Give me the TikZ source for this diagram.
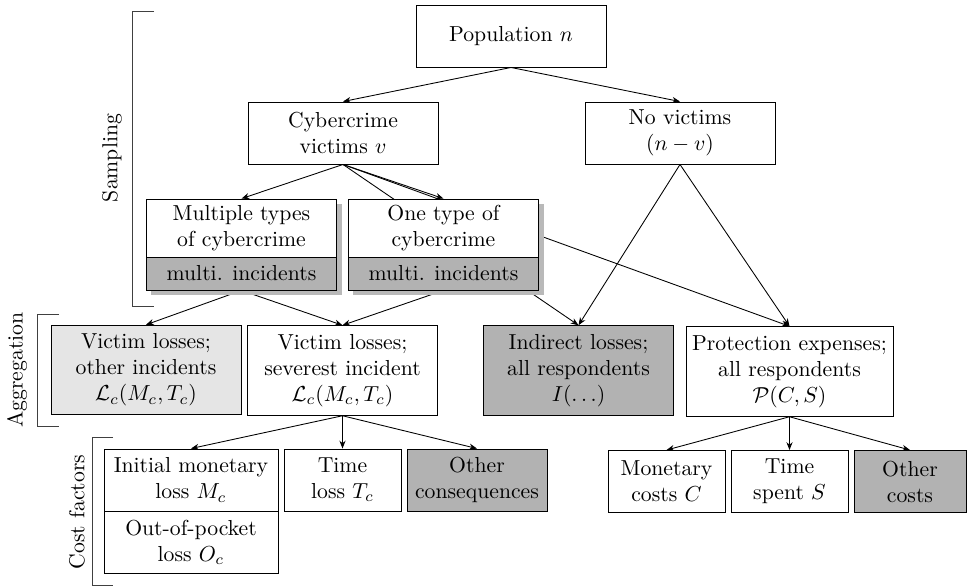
\documentclass[tikz,border=0pt]{standalone}
\usepackage{tikz}
\usetikzlibrary{arrows.meta,shadows}
\usepackage{amsmath,amssymb}
\pgfdeclarelayer{bg}
\pgfsetlayers{bg,main}
\tikzset{
  box/.style={draw, align=center, inner sep=2pt, minimum width=87.6pt, minimum height=28.6pt},
  tallbox/.style={box, minimum height=41.3pt},
  costbox/.style={box, minimum width=53.9pt},
  shade/.style={drop shadow={shadow xshift=2.3pt, shadow yshift=-2.3pt, fill=gray!55, opacity=1}},
  link/.style={-{Stealth[length=3.6pt,width=2.8pt]}},
  brace/.style={black!75},
}

\begin{document}
\begin{tikzpicture}[x=0.4608pt, y=-0.4608pt]
\useasboundingbox (0,0) rectangle (967,586);
% sampling
\node[box] (pop) at (511,36) {Population $n$};
\node[box] (victims) at (343,133) {Cybercrime\\victims $v$};
\node[box] (novictims) at (680,133) {No victims\\$(n - v)$};
\node[box, shade, fill=white, minimum height=26.7pt] (multitype) at (241.5,228) {Multiple types\\of cybercrime};
\node[box, shade, fill=gray!60, minimum height=15.2pt] (multiinc) at (241.5,273.5) {multi. incidents};
\node[box, shade, fill=white, minimum height=26.7pt] (onetype) at (443.5,228) {One type of\\cybercrime};
\node[box, shade, fill=gray!60, minimum height=15.2pt] (oneinc) at (443.5,273.5) {multi. incidents};

% aggregation
\node[tallbox, fill=gray!20] (otherloss) at (146,370) {Victim losses;\\other incidents\\$\mathcal{L}_c(M_c, T_c)$};
\node[tallbox] (severe) at (342.5,370.5) {Victim losses;\\severest incident\\$\mathcal{L}_c(M_c, T_c)$};
\node[tallbox, fill=gray!60] (indirect) at (578.5,370.5) {Indirect losses;\\all respondents\\$I(\ldots)$};
\node[tallbox, minimum width=95.4pt] (protect) at (789.5,371.5) {Protection expenses;\\all respondents\\$\mathcal{P}(C, S)$};

% cost factors
\node[box, minimum width=80.2pt] (initial) at (191,480) {Initial monetary\\loss $M_c$};
\node[box, minimum width=80.2pt] (outpocket) at (191,542.5) {Out-of-pocket\\loss $O_c$};
\node[costbox] (timeloss) at (342.5,480) {Time\\loss $T_c$};
\node[costbox, fill=gray!60, minimum width=64.5pt] (othercons) at (477,480) {Other\\consequences};
\node[costbox] (monetary) at (666.5,481.5) {Monetary\\costs $C$};
\node[costbox] (timespent) at (789.5,481.5) {Time\\spent $S$};
\node[costbox, fill=gray!60, minimum width=51.6pt] (othercosts) at (910,481.5) {Other\\costs};

% connectors behind the boxes
\begin{pgfonlayer}{bg}
\draw[link] (pop.south) -- (victims.north);
\draw[link] (pop.south) -- (novictims.north);
\foreach \t in {multitype,onetype,indirect,protect}
  \draw[link] (victims.south) -- (\t.north);
\foreach \t in {indirect,protect}
  \draw[link] (novictims.south) -- (\t.north);
\draw[link] (multiinc.south) -- (otherloss.north);
\draw[link] (multiinc.south) -- (severe.north);
\draw[link] (oneinc.south) -- (severe.north);
\foreach \t in {initial,timeloss,othercons}
  \draw[link] (severe.south) -- (\t.north);
\foreach \t in {monetary,timespent,othercosts}
  \draw[link] (protect.south) -- (\t.north);
\end{pgfonlayer}

% brackets on the left
\draw[brace] (154,11) -- (132,11) -- (132,306) -- (154,306);
\node[rotate=90] (lsampling) at (112,158) {Sampling};
\draw[brace] (59,314) -- (37,314) -- (37,426) -- (59,426);
\node[rotate=90] (laggregation) at (17,370) {Aggregation};
\draw[brace] (113,437) -- (92,437) -- (92,585) -- (113,585);
\node[rotate=90] (lcost) at (77,512) {Cost factors};
\end{tikzpicture}
\end{document}
